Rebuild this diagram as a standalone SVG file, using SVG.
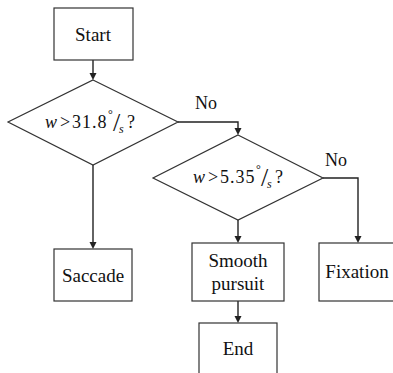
<svg xmlns="http://www.w3.org/2000/svg" width="393" height="373" viewBox="0 0 393 373">
<style>
.box{fill:#fff;stroke:#333;stroke-width:1.2}
.con{fill:none;stroke:#222;stroke-width:1.4}
.ah{fill:#222}
text{font-family:"Liberation Serif","Times New Roman",serif;fill:#111}
.lbl{font-size:19px;text-anchor:middle}
.no{font-size:18px}
.m{font-size:18px}
</style>
<g id="connectors">
<path class="con" d="M93,60 V74"/>
<polygon class="ah" points="89.5,73 96.5,73 93,80"/>
<path class="con" d="M93,165 V243"/>
<polygon class="ah" points="89.5,242 96.5,242 93,249"/>
<path class="con" d="M178,122 H238 V129"/>
<polygon class="ah" points="234.5,128 241.5,128 238,135"/>
<path class="con" d="M238,220 V237"/>
<polygon class="ah" points="234.5,236 241.5,236 238,243"/>
<path class="con" d="M323,178 H358 V237"/>
<polygon class="ah" points="354.5,236 361.5,236 358,243"/>
<path class="con" d="M238,301 V317"/>
<polygon class="ah" points="234.5,316 241.5,316 238,323"/>
<text class="no" font-family="Liberation Serif" x="195" y="109">No</text>
<text class="no" font-family="Liberation Serif" x="325" y="166">No</text>
</g>
<g id="start">
<rect class="box" x="54" y="8" width="79" height="52"/>
<text class="lbl" font-family="Liberation Serif" x="93" y="41">Start</text>
</g>
<g id="decision1">
<polygon class="box" points="93,80 178,122 93,165 8,122"/>
<text class="m" font-family="Liberation Serif" transform="translate(45,128)"><tspan x="0" y="0" font-style="italic">w</tspan><tspan x="15" y="0">&gt;</tspan><tspan x="27" y="0" letter-spacing="1">31.8</tspan><tspan x="63" y="-10" font-size="12">&#176;</tspan><tspan x="68" y="3" font-size="26">/</tspan><tspan x="74" y="5" font-size="12" font-style="italic">s</tspan><tspan x="82" y="0">?</tspan></text>
</g>
<g id="decision2">
<polygon class="box" points="238,135 323,178 238,220 153,178"/>
<text class="m" font-family="Liberation Serif" transform="translate(193,183)"><tspan x="0" y="0" font-style="italic">w</tspan><tspan x="15" y="0">&gt;</tspan><tspan x="27" y="0" letter-spacing="1">5.35</tspan><tspan x="63" y="-10" font-size="12">&#176;</tspan><tspan x="68" y="3" font-size="26">/</tspan><tspan x="74" y="5" font-size="12" font-style="italic">s</tspan><tspan x="82" y="0">?</tspan></text>
</g>
<g id="saccade">
<rect class="box" x="54" y="249" width="78" height="52"/>
<text class="lbl" font-family="Liberation Serif" x="93" y="282">Saccade</text>
</g>
<g id="smooth">
<rect class="box" x="192" y="243" width="92" height="58"/>
<text class="lbl" font-family="Liberation Serif" x="238" y="267">Smooth</text>
<text class="lbl" font-family="Liberation Serif" x="238" y="290">pursuit</text>
</g>
<g id="fixation">
<rect class="box" x="319" y="243" width="78" height="58"/>
<text class="lbl" font-family="Liberation Serif" x="357" y="278">Fixation</text>
</g>
<g id="end">
<rect class="box" x="199" y="323" width="78" height="55"/>
<text class="lbl" font-family="Liberation Serif" x="238" y="355">End</text>
</g>
</svg>
